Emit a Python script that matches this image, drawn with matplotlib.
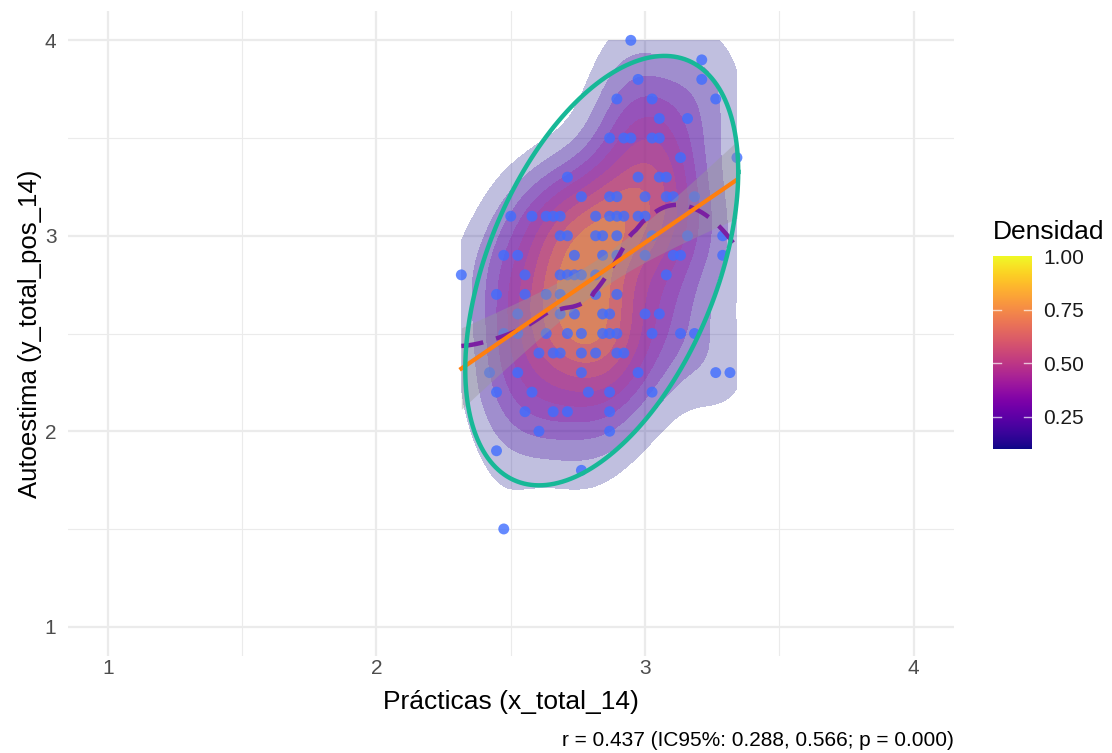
import numpy as np
import matplotlib.pyplot as plt
from matplotlib import colors as mcolors

plt.rcParams['font.family'] = ['Liberation Sans', 'DejaVu Sans']

# puntos por fila de y (autoestima): valores de x (practicas)
y_rows = [4.0, 3.9, 3.8, 3.7, 3.6, 3.5, 3.4, 3.3, 3.2, 3.1, 3.0, 2.9, 2.8,
          2.7, 2.6, 2.5, 2.4, 2.3, 2.2, 2.1, 2.0, 1.9, 1.8, 1.5]
x_rows = [
    [2.947],
    [3.211],
    [2.974, 3.211],
    [2.895, 3.026, 3.263],
    [3.053, 3.158],
    [2.868, 2.921, 2.947, 3.026, 3.053],
    [3.132, 3.342],
    [2.711, 2.974, 3.053, 3.079],
    [2.763, 2.868, 2.895, 3.000, 3.079, 3.105, 3.184],
    [2.500, 2.579, 2.632, 2.658, 2.684, 2.816, 2.868, 2.895, 2.921, 2.974, 3.000],
    [2.684, 2.711, 2.816, 2.842, 2.895, 3.026, 3.158, 3.289],
    [2.474, 2.526, 2.737, 2.842, 2.895, 3.000, 3.105, 3.132, 3.289],
    [2.316, 2.553, 2.684, 2.711, 2.737, 2.763, 2.816, 3.079],
    [2.447, 2.553, 2.632, 2.684, 2.816, 2.895],
    [2.526, 2.684, 2.737, 2.842, 2.868, 3.000, 3.053],
    [2.474, 2.526, 2.632, 2.711, 2.763, 2.842, 2.868, 2.895, 3.026, 3.132, 3.184],
    [2.605, 2.658, 2.684, 2.763, 2.816, 2.895, 2.921],
    [2.421, 2.526, 2.763, 2.974, 3.263, 3.316],
    [2.447, 2.579, 2.789, 2.868, 3.026],
    [2.553, 2.658, 2.711, 2.868],
    [2.605, 2.868],
    [2.447],
    [2.763],
    [2.474],
]
ticks = [1, 2, 3, 4]
legend_ticks = [0.25, 0.50, 0.75, 1.00]
caption = "r = 0.437 (IC95%: 0.288, 0.566; p = 0.000)"

x = np.concatenate([np.array(r) for r in x_rows])
y = np.concatenate([np.full(len(r), yv) for r, yv in zip(x_rows, y_rows)])
n = len(x)

# --- densidad 2d (como MASS::kde2d) ---
def bw_nrd(v):
    q1, q3 = np.quantile(v, [0.25, 0.75])
    return 4 * 1.06 * min(np.std(v, ddof=1), (q3 - q1) / 1.34) * len(v) ** (-0.2)

adjust = 1.15
hx, hy = adjust * bw_nrd(x) / 4, adjust * bw_nrd(y) / 4
gx = np.linspace(x.min(), x.max(), 100)
gy = np.linspace(y.min(), y.max(), 100)
ax_ = np.exp(-0.5 * ((gx[:, None] - x[None, :]) / hx) ** 2)
ay_ = np.exp(-0.5 * ((gy[:, None] - y[None, :]) / hy) ** 2)
Z = ay_ @ ax_.T
Z = Z / Z.max()

cmap = plt.get_cmap('plasma')
norm = mcolors.Normalize(0.1, 1.0)

# --- loess ---
def loess(xv, yv, xs, span=0.75):
    q = int(np.floor(len(xv) * span))
    out = []
    for x0 in xs:
        d = np.abs(xv - x0)
        dmax = np.sort(d)[q - 1]
        w = np.clip(1 - (d / dmax) ** 3, 0, None) ** 3
        X = np.column_stack([np.ones(len(xv)), xv - x0, (xv - x0) ** 2])
        sw = np.sqrt(w)
        beta = np.linalg.lstsq(X * sw[:, None], yv * sw, rcond=None)[0]
        out.append(beta[0])
    return np.array(out)

xs = np.linspace(x.min(), x.max(), 80)
ys_lo = loess(x, y, xs)

# --- lm + IC ---
b1, b0 = np.polyfit(x, y, 1)
fit = b0 + b1 * xs
res = y - (b0 + b1 * x)
s = np.sqrt(np.sum(res ** 2) / (n - 2))
se = s * np.sqrt(1 / n + (xs - x.mean()) ** 2 / np.sum((x - x.mean()) ** 2))
tq = 1.981

# --- elipse t (cov.trob), 95% ---
data = np.column_stack([x, y])
center = data.mean(0)
cov = np.cov(data.T)
for _ in range(100):
    dd = data - center
    Q = np.einsum('ij,jk,ik->i', dd, np.linalg.inv(cov), dd)
    w = (5 + 2) / (5 + Q)
    center = (w[:, None] * data).sum(0) / w.sum()
    dd = data - center
    cov = (w[:, None, None] * dd[:, :, None] * dd[:, None, :]).sum(0) / n
radius = np.sqrt(2 * 3.076)
th = np.linspace(0, 2 * np.pi, 200)
circ = np.column_stack([np.cos(th), np.sin(th)])
U = np.linalg.cholesky(cov).T
ell = center + radius * circ @ U

fig = plt.figure(figsize=(11.12, 7.53), dpi=100)
ax = fig.add_axes([67.5 / 1112, 1 - 656 / 753, (954 - 67.5) / 1112, (656 - 11) / 753])

for lv in np.arange(0.1, 0.95, 0.1):
    ax.contourf(gx, gy, Z, levels=[lv, 1.01], colors=[cmap(norm(lv))], alpha=0.26, zorder=2)

ax.scatter(x, y, s=62, color='#3F6DFF', alpha=0.8, edgecolors='none', zorder=3)
ax.fill_between(xs, fit - tq * se, fit + tq * se, color='#999999', alpha=0.4, lw=0, zorder=4)
ax.plot(xs, ys_lo, color='#7B1FA2', lw=3.2, ls=(0, (5, 3)), zorder=5)
ax.plot(xs, fit, color='#FF7F0E', lw=3, zorder=6)
ax.plot(ell[:, 0], ell[:, 1], color='#17B897', lw=3.2, zorder=7)

ax.set_xlim(0.85, 4.15)
ax.set_ylim(0.85, 4.15)
ax.set_xticks(ticks)
ax.set_yticks(ticks)
ax.set_xticks([1.5, 2.5, 3.5], minor=True)
ax.set_yticks([1.5, 2.5, 3.5], minor=True)
ax.grid(which='major', color='#EBEBEB', lw=1.6, zorder=0)
ax.grid(which='minor', color='#EBEBEB', lw=0.8, zorder=0)
ax.set_axisbelow(True)
for sp in ax.spines.values():
    sp.set_visible(False)
ax.tick_params(which='both', length=0, labelsize=15, labelcolor='#4D4D4D')
ax.tick_params(axis='x', pad=2)
ax.tick_params(axis='y', pad=8)

fig.text(510.7 / 1112, 1 - 702 / 753, "Prácticas (x_total_14)", ha='center', va='center', fontsize=19)
fig.text(30 / 1112, 1 - 333.5 / 753, "Autoestima (y_total_pos_14)", ha='center', va='center',
         rotation=90, fontsize=18.5)
fig.text(954 / 1112, 1 - 740 / 753, caption, ha='right', va='center', fontsize=15)

# barra de color
cax = fig.add_axes([993 / 1112, 1 - 449 / 753, 39 / 1112, 193 / 753])
grad = np.linspace(0.1, 1.0, 256)[:, None]
cax.imshow(grad, aspect='auto', cmap=cmap, norm=norm, origin='lower', extent=[0, 1, 0.1, 1.0])
cax.set_xlim(0, 1)
cax.set_ylim(0.1, 1.0)
for t in legend_ticks[:-1]:
    cax.plot([0, 0.2], [t, t], color='white', lw=1, alpha=0.7)
    cax.plot([0.8, 1], [t, t], color='white', lw=1, alpha=0.7)
cax.set_xticks([])
cax.set_yticks(legend_ticks)
cax.set_yticklabels([f"{t:.2f}" for t in legend_ticks])
cax.yaxis.tick_right()
cax.tick_params(length=0, labelsize=15, labelcolor='#1A1A1A', pad=8)
for sp in cax.spines.values():
    sp.set_visible(False)
fig.text(993 / 1112, 1 - 232 / 753, "Densidad", ha='left', va='center', fontsize=19)

fig.savefig('out.png', dpi=100)
